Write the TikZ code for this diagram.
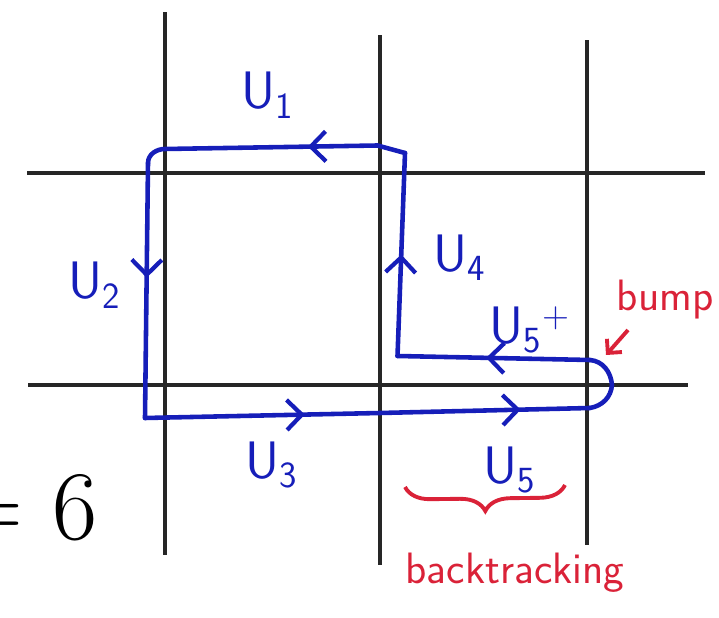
\documentclass[tikz,border=0pt]{standalone}
\usepackage{amsmath}
\usepackage{tikz}
\usetikzlibrary{arrows.meta, calc, decorations.markings, decorations.pathreplacing}

\definecolor{penblue}{RGB}{22,30,185}
\definecolor{penred}{RGB}{218,34,56}

\begin{document}
\begin{tikzpicture}[
    gridline/.style={line width=2pt, black!85},
    walk/.style={line width=2.6pt, penblue, line cap=round, line join=round},
    midarr/.style={postaction={decorate}, decoration={markings,
        mark=at position #1 with {\arrow{Straight Barb[length=3mm,width=6mm,line width=2.4pt]}}}},
    lbl/.style={penblue, inner sep=0pt, font=\fontsize{30}{32}\selectfont\sffamily},
    note/.style={penred, inner sep=0pt, font=\fontsize{25}{27}\selectfont\sffamily}]
    \clip (0,0) rectangle (14.38,12.36);

    % grid
    \foreach \x/\a/\b in {3.3/1.26/12.12, 7.6/1.06/11.66, 11.74/1.46/11.56}
        \draw[gridline] (\x,\a) -- (\x,\b);
    \draw[gridline] (0.54,8.9) -- (14.1,8.9);
    \draw[gridline] (0.56,4.66) -- (13.76,4.66);

    % corners of the walk
    \coordinate (tr) at (8.1,9.3);
    \coordinate (tl) at (2.96,9.1);
    \coordinate (bl) at (2.9,4.0);
    \coordinate (bm) at (7.6,4.1);
    \coordinate (br) at (11.8,4.2);
    \coordinate (tip) at (12.24,4.66);
    \coordinate (rt) at (11.8,5.16);
    \coordinate (ml) at (7.95,5.24);

    \draw[walk, midarr=.37] (tr) -- (7.55,9.45) -- (3.3,9.38) to[out=180,in=90] (tl);
    \draw[walk, midarr=.45] (tl) -- (bl);
    \draw[walk, midarr=.68] (bl) -- (bm);
    \draw[walk, midarr=.67] (bm) -- (br);
    \draw[walk] (br) to[out=10,in=-95] (tip) to[out=95,in=-5] (rt);
    \draw[walk, midarr=.54] (rt) -- (ml);
    \draw[walk, midarr=.5] (ml) -- (tr);

    % labels
    \node[lbl] (u1) at (5.36,10.46) {U\textsubscript{1}};
    \node[lbl] (u2) at (1.9,6.66) {U\textsubscript{2}};
    \node[lbl] (u3) at (5.44,3.06) {U\textsubscript{3}};
    \node[lbl] (u4) at (9.2,7.2) {U\textsubscript{4}};
    \node[lbl] (u5p) at (10.6,5.76) {U\textsubscript{5}\textsuperscript{+}};
    \node[lbl] (u5) at (10.2,2.96) {U\textsubscript{5}};

    \node[note] (bump) at (13.3,6.36) {bump};
    \coordinate (bumptip) at (12.12,5.26);
    \draw[penred, line width=2.2pt, -{Straight Barb[length=2mm,width=4mm]}] (12.56,5.76) -- (bumptip);

    \coordinate (b1) at (8.1,2.62);
    \coordinate (b2) at (11.3,2.66);
    \draw[penred, line width=2.2pt, decorate, decoration={brace, amplitude=0.5cm, mirror}] (b1) -- (b2);
    \node[note] (back) at (10.3,0.9) {backtracking};

    \node[anchor=base east, inner sep=0pt, font=\fontsize{56}{58}\selectfont] (eq) at (1.96,1.56) {=\hspace{0.3em}6};
\end{tikzpicture}
\end{document}
